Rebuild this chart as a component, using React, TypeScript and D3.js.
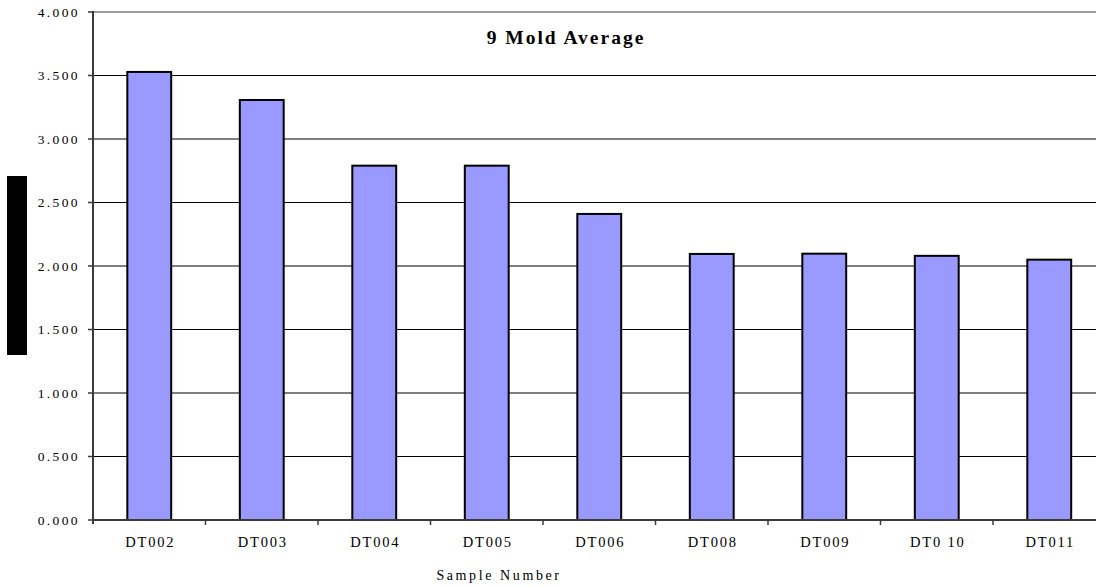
import React, { useEffect, useRef } from 'react';
import * as d3 from 'd3';

// Sample numbers and their 9 mold averages
const SAMPLES = ['DT002', 'DT003', 'DT004', 'DT005', 'DT006', 'DT008', 'DT009', 'DT0 10', 'DT011'];
const AVERAGES = [3.528, 3.307, 2.79, 2.79, 2.41, 2.095, 2.097, 2.08, 2.05];
const Y_TICKS = [0, 0.5, 1, 1.5, 2, 2.5, 3, 3.5, 4];

const W = 1096;
const H = 586;
const FONT = "'Liberation Serif', 'Times New Roman', serif";

const App: React.FC = () => {
  const svgRef = useRef<SVGSVGElement>(null);

  useEffect(() => {
    document.body.style.margin = '0';
    if (!svgRef.current) return;
    const svg = d3.select(svgRef.current);
    svg.selectAll('*').remove();

    // plot area runs off the right edge of the picture
    const left = 93;
    const right = 1105.5;
    const top = 12;
    const bottom = 520;

    const x = d3.scaleBand<string>().domain(SAMPLES).range([left, right]).padding(0);
    const y = d3.scaleLinear().domain([0, 4]).range([bottom, top]);

    // gridlines
    svg.append('g')
      .selectAll('line')
      .data(Y_TICKS.filter((t) => t > 0))
      .enter()
      .append('line')
      .attr('x1', left)
      .attr('x2', W)
      .attr('y1', (d) => y(d))
      .attr('y2', (d) => y(d))
      .attr('stroke', (d) => (d === 4 ? '#9a9a9a' : '#000'))
      .attr('stroke-width', (d) => (d === 4 ? 2 : 1.2));

    // bars
    const barW = x.bandwidth() * 0.39;
    svg.append('g')
      .selectAll('rect')
      .data(AVERAGES)
      .enter()
      .append('rect')
      .attr('x', (_d, i) => (x(SAMPLES[i]) as number) + (x.bandwidth() - barW) / 2)
      .attr('y', (d) => y(d))
      .attr('width', barW)
      .attr('height', (d) => bottom - y(d))
      .attr('fill', '#9999ff')
      .attr('stroke', '#000')
      .attr('stroke-width', 2);

    // y axis
    svg.append('line')
      .attr('x1', left).attr('x2', left)
      .attr('y1', top - 1).attr('y2', bottom + 4)
      .attr('stroke', '#3a3a3a').attr('stroke-width', 2);

    const yt = svg.append('g');
    Y_TICKS.forEach((t) => {
      yt.append('line')
        .attr('x1', left - 5).attr('x2', left)
        .attr('y1', y(t)).attr('y2', y(t))
        .attr('stroke', '#3a3a3a').attr('stroke-width', 1.5);
      yt.append('text')
        .attr('x', 80)
        .attr('y', y(t))
        .attr('dy', '0.35em')
        .attr('text-anchor', 'end')
        .attr('font-family', FONT)
        .attr('font-size', '13.5px')
        .attr('letter-spacing', '2.4px')
        .attr('fill', '#000')
        .text(d3.format('.3f')(t));
    });

    // x axis
    svg.append('line')
      .attr('x1', left).attr('x2', W)
      .attr('y1', bottom).attr('y2', bottom)
      .attr('stroke', '#3a3a3a').attr('stroke-width', 2);

    const xt = svg.append('g');
    SAMPLES.forEach((s, i) => {
      const x0 = x(s) as number;
      if (i > 0) {
        xt.append('line')
          .attr('x1', x0).attr('x2', x0)
          .attr('y1', bottom).attr('y2', bottom + 5)
          .attr('stroke', '#3a3a3a').attr('stroke-width', 1.5);
      }
      xt.append('text')
        .attr('x', x0 + x.bandwidth() / 2 + 1)
        .attr('y', 547)
        .attr('text-anchor', 'middle')
        .attr('font-family', FONT)
        .attr('font-size', '14.5px')
        .attr('letter-spacing', '1.8px')
        .attr('fill', '#000')
        .text(s);
    });

    // axis title
    svg.append('text')
      .attr('x', 499)
      .attr('y', 580)
      .attr('text-anchor', 'middle')
      .attr('font-family', FONT)
      .attr('font-size', '14px')
      .attr('letter-spacing', '2.6px')
      .attr('fill', '#000')
      .text('Sample Number');

    // y-axis title box (rendered black)
    svg.append('rect')
      .attr('x', 7).attr('y', 176)
      .attr('width', 20).attr('height', 179)
      .attr('fill', '#000');

    // chart title
    svg.append('text')
      .attr('x', 566)
      .attr('y', 44)
      .attr('text-anchor', 'middle')
      .attr('font-family', FONT)
      .attr('font-weight', 'bold')
      .attr('font-size', '19.5px')
      .attr('letter-spacing', '2px')
      .attr('fill', '#000')
      .text('9 Mold Average');
  }, []);

  return (
    <svg
      ref={svgRef}
      width={W}
      height={H}
      style={{ display: 'block', background: '#fff' }}
    />
  );
};

export default App;
